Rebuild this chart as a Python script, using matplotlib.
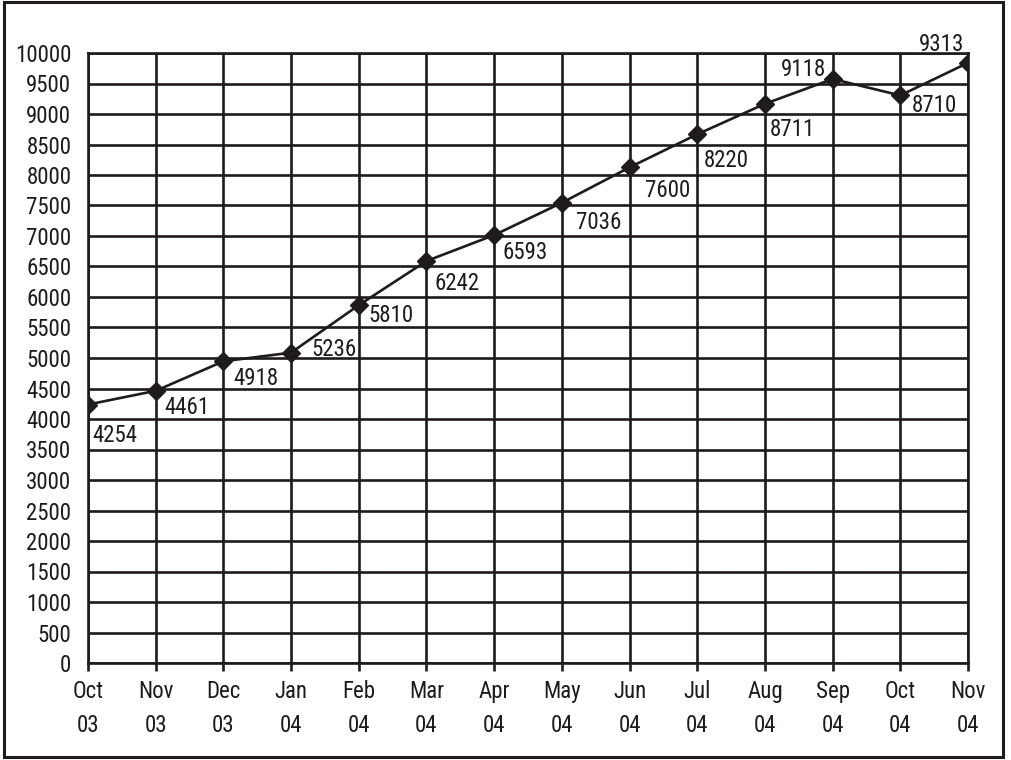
# line chart with diamond markers, monthly totals Oct 03 - Nov 04

import matplotlib
matplotlib.use('Agg')
import matplotlib.pyplot as plt
from matplotlib import font_manager
from matplotlib.patches import Rectangle

# data
months = ['Oct\n03', 'Nov\n03', 'Dec\n03', 'Jan\n04', 'Feb\n04', 'Mar\n04', 'Apr\n04',
          'May\n04', 'Jun\n04', 'Jul\n04', 'Aug\n04', 'Sep\n04', 'Oct\n04', 'Nov\n04']
# where the markers sit on the y scale
plotted = [4237, 4462, 4946, 5088, 5866, 6590, 7015, 7545, 8125, 8667, 9167, 9574, 9305, 9839]
# numbers printed next to the markers
labels = ['4254', '4461', '4918', '5236', '5810', '6242', '6593',
          '7036', '7600', '8220', '8711', '9118', '8710', '9313']
y_ticks = list(range(0, 10001, 500))

# label placement: (dx, dy) in pixels from the marker, horizontal alignment
label_offsets = [(4, -37), (9, -23), (10, -24), (20, -3), (10, -17), (8, -29), (8, -24),
                 (14, -26), (15, -30), (7, -33), (5, -32), (-6, 3), (11, -17), (-4, 12)]
label_ha = ['left'] * 11 + ['right', 'left', 'right']

ink = '#1f1b1c'

# the original uses a condensed grotesque; use a narrow face if there is one
installed = {f.name for f in font_manager.fontManager.ttflist}
if 'Liberation Sans Narrow' in installed:
    face, fsize = 'Liberation Sans Narrow', 17
elif 'Roboto Condensed' in installed:
    face, fsize = 'Roboto Condensed', 16.5
else:
    face, fsize = 'Liberation Sans', 14.5
plt.rcParams['font.family'] = [face, 'DejaVu Sans']
plt.rcParams['font.size'] = fsize

fig = plt.figure(figsize=(10.11, 7.6), dpi=100)
ax = fig.add_axes([88 / 1011, 1 - 663 / 760, 880 / 1011, 610 / 760])

x = list(range(len(months)))
ax.plot(x, plotted, color=ink, linewidth=1.9, marker='D', markersize=9.5, zorder=3)

for i in x:
    dx, dy = label_offsets[i]
    ax.annotate(labels[i], (x[i], plotted[i]), xytext=(dx, dy), textcoords='offset pixels',
                ha=label_ha[i], va='baseline', color=ink, zorder=4)

# axes, ticks and grid
ax.set_xlim(0, len(months) - 1)
ax.set_ylim(0, 10000)
ax.set_xticks(x, months)
ax.set_yticks(y_ticks)
ax.grid(True, color=ink, linewidth=1.9)
ax.set_axisbelow(True)
for s in ax.spines.values():
    s.set_color(ink)
    s.set_linewidth(1.9)
ax.tick_params(axis='x', direction='out', length=6, width=1.9, color=ink, pad=6, labelcolor=ink)
ax.tick_params(axis='y', length=0, pad=12, labelcolor=ink)
for t in ax.get_xticklabels():
    t.set_linespacing(1.62)

# outer frame around the whole figure
fig.patches.append(Rectangle((4 / 1011, 3 / 760), 999 / 1011, 755 / 760, transform=fig.transFigure,
                             fill=False, edgecolor=ink, linewidth=2.2))

fig.savefig('out.png', dpi=100)
